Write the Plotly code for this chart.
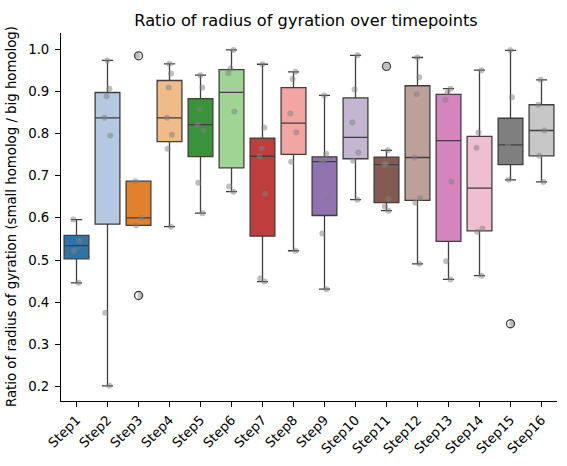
import colorsys
import numpy as np
import plotly.graph_objects as go

steps = [f"Step{i}" for i in range(1, 17)]

step1 = [0.446, 0.522, 0.546, 0.596]
step2 = [0.202, 0.375, 0.795, 0.837, 0.888, 0.906, 0.973]
step3 = [0.416, 0.582, 0.600, 0.687, 0.984]
step4 = [0.579, 0.764, 0.797, 0.837, 0.909, 0.942, 0.965]
step5 = [0.611, 0.683, 0.807, 0.821, 0.856, 0.909, 0.938]
step6 = [0.662, 0.674, 0.852, 0.943, 0.954, 0.998]
step7 = [0.449, 0.456, 0.657, 0.746, 0.764, 0.814, 0.964]
step8 = [0.522, 0.733, 0.802, 0.847, 0.929, 0.946]
step9 = [0.431, 0.563, 0.648, 0.733, 0.737, 0.752, 0.890]
step10 = [0.643, 0.735, 0.755, 0.826, 0.904, 0.985]
step11 = [0.617, 0.627, 0.645, 0.726, 0.728, 0.760, 0.959]
step12 = [0.491, 0.636, 0.647, 0.743, 0.893, 0.933, 0.980]
step13 = [0.454, 0.497, 0.686, 0.880, 0.897, 0.906]
step14 = [0.463, 0.567, 0.575, 0.766, 0.802, 0.950]
step15 = [0.349, 0.690, 0.762, 0.773, 0.786, 0.886, 0.997]
step16 = [0.685, 0.747, 0.807, 0.868, 0.927]

values = [step1, step2, step3, step4, step5, step6, step7, step8,
          step9, step10, step11, step12, step13, step14, step15, step16]

tab20 = ["#1f77b4", "#aec7e8", "#ff7f0e", "#ffbb78", "#2ca02c", "#98df8a",
         "#d62728", "#ff9896", "#9467bd", "#c5b0d5", "#8c564b", "#c49c94",
         "#e377c2", "#f7b6d2", "#7f7f7f", "#c7c7c7"]


def desaturate(hexc, prop=0.75):
    r, g, b = (int(hexc[i:i + 2], 16) / 255 for i in (1, 3, 5))
    h, l, s = colorsys.rgb_to_hls(r, g, b)
    r, g, b = colorsys.hls_to_rgb(h, l, s * prop)
    return "rgb(%d,%d,%d)" % (round(r * 255), round(g * 255), round(b * 255))


EDGE = "#3f3f3f"
FONT = "DejaVu Sans"
FS = 13.3

fig = go.Figure()

# boxes with numpy (linear) quartiles, matching the reference
out_x, out_y = [], []
for name, vals, col in zip(steps, values, tab20):
    arr = np.array(vals)
    q1, med, q3 = np.percentile(arr, [25, 50, 75])
    iqr = q3 - q1
    lo, hi = q1 - 1.5 * iqr, q3 + 1.5 * iqr
    inside = arr[(arr >= lo) & (arr <= hi)]
    for v in arr[(arr < lo) | (arr > hi)]:
        out_x.append(name)
        out_y.append(float(v))
    fig.add_trace(go.Box(
        x=[name], q1=[q1], median=[med], q3=[q3],
        lowerfence=[inside.min()], upperfence=[inside.max()],
        width=0.8, whiskerwidth=0.45,
        fillcolor=desaturate(col), line=dict(color=EDGE, width=1.3),
        boxpoints=False, showlegend=False, hoverinfo="skip",
    ))

# strip points (jittered by plotly)
for name, vals in zip(steps, values):
    fig.add_trace(go.Box(
        x=[name] * len(vals), y=vals, width=0.8,
        boxpoints="all", jitter=0.3, pointpos=0, whiskerwidth=0,
        fillcolor="rgba(0,0,0,0)", line=dict(color="rgba(0,0,0,0)", width=0),
        marker=dict(color="rgb(128,128,128)", opacity=0.5, size=6),
        showlegend=False, hoverinfo="y",
    ))

# outliers (fliers)
fig.add_trace(go.Scatter(
    x=out_x, y=out_y, mode="markers",
    marker=dict(symbol="circle-open", size=8, color=EDGE, line=dict(width=1.3, color=EDGE)),
    showlegend=False, hoverinfo="y",
))

yticks = [0.2, 0.3, 0.4, 0.5, 0.6, 0.7, 0.8, 0.9, 1.0]

fig.update_layout(
    width=567, height=466,
    margin=dict(l=61, r=10, t=33, b=65),
    paper_bgcolor="white", plot_bgcolor="white",
    boxmode="overlay",
    font=dict(family=FONT, size=FS, color="black"),
    title=dict(text="Ratio of radius of gyration over timepoints",
               x=306 / 567, xanchor="center",
               y=1 - 20 / 466, yanchor="middle",
               font=dict(family=FONT, size=16.2, color="black")),
    xaxis=dict(type="category", categoryorder="array", categoryarray=steps,
               range=[-0.5, 15.5], showline=True, linecolor="black", linewidth=1,
               ticks="outside", ticklen=5, tickcolor="black", tickwidth=1,
               tickangle=-45, showgrid=False, zeroline=False,
               tickfont=dict(family=FONT, size=FS, color="black")),
    yaxis=dict(range=[0.166, 1.038], tickvals=yticks,
               ticktext=["%.1f" % t for t in yticks],
               showline=True, linecolor="black", linewidth=1,
               ticks="outside", ticklen=5, tickcolor="black", tickwidth=1,
               ticklabelstandoff=3,
               showgrid=False, zeroline=False,
               tickfont=dict(family=FONT, size=FS, color="black")),
    annotations=[dict(text="Ratio of radius of gyration (small homolog / big homolog)",
                      xref="paper", yref="paper", x=(11 - 61) / 496, y=0.5,
                      xanchor="center", yanchor="middle", textangle=-90,
                      showarrow=False, font=dict(family=FONT, size=FS, color="black"))],
)

fig.write_html("out.html")
